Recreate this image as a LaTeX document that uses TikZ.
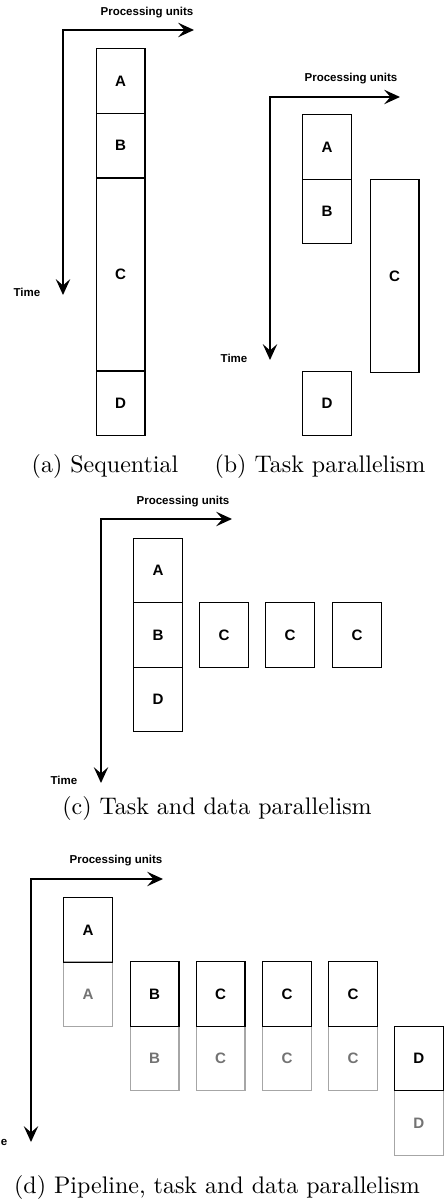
\documentclass[tikz,border=0pt]{standalone}
\usepackage{fontspec}
\newfontfamily\unitfont{Liberation Sans}
\usetikzlibrary{arrows.meta}

\begin{document}
\begin{tikzpicture}[x=.417pt,y=-.417pt,
  eje/.style={line width=.85pt,
    {Stealth[length=6.6pt,width=6pt,inset=2.6pt]}-{Stealth[length=6.6pt,width=6pt,inset=2.6pt]}},
  tarea/.style={draw,line width=.45pt,minimum width=20.4pt,minimum height=26.9pt,
    inner sep=0pt,font=\unitfont\bfseries\fontsize{6.3}{7}\selectfont},
  larga/.style={tarea,minimum height=80.6pt},
  sombra/.style={tarea,draw=black!35,text=black!55},
  rotulo/.style={font=\unitfont\bfseries\fontsize{4.8}{5}\selectfont},
  pie/.style={font=\normalsize}]
\useasboundingbox (0,0) rectangle (444,1201);

% (a)
\coordinate (oa) at (63,30);
\coordinate (xa) at (194,30);
\coordinate (ta) at (63,295);
\draw[eje] (xa) -- (oa) -- (ta);
\node[rotulo] (pua) at (147,13) {Processing units};
\node[rotulo] (tia) at (27,292) {Time};
\node[tarea] (aA) at (120.5,81) {A};
\node[tarea] (aB) at (120.5,145.5) {B};
\node[larga,minimum height=80.4pt] (aC) at (120.5,274.5) {C};
\node[tarea] (aD) at (120.5,403.5) {D};
\node[pie] (capa) at (105,467) {(a) Sequential};

% (b)
\coordinate (ob) at (270,97);
\coordinate (xb) at (400,97);
\coordinate (tb) at (270,360);
\draw[eje] (xb) -- (ob) -- (tb);
\node[rotulo] (pub) at (351,79) {Processing units};
\node[rotulo] (tib) at (234,358) {Time};
\node[tarea] (bA) at (327,147) {A};
\node[tarea] (bB) at (327,211.5) {B};
\node[larga] (bC) at (394.5,276) {C};
\node[tarea] (bD) at (327,403.5) {D};
\node[pie] (capb) at (320,467) {(b) Task parallelism};

% (c)
\coordinate (oc) at (101,519);
\coordinate (xc) at (232,519);
\coordinate (tc) at (101,783);
\draw[eje] (xc) -- (oc) -- (tc);
\node[rotulo] (puc) at (183,502) {Processing units};
\node[rotulo] (tic) at (64,780) {Time};
\node[tarea] (cA) at (158,570.5) {A};
\node[tarea] (cB) at (158,635) {B};
\node[tarea] (cD) at (158,699.5) {D};
\foreach \i/\x in {1/224,2/290,3/357}
  \node[tarea] (cC\i) at (\x,635) {C};
\node[pie] (capc) at (217,808) {(c) Task and data parallelism};

% (d)
\coordinate (od) at (31,879);
\coordinate (xd) at (163,879);
\coordinate (td) at (31,1142);
\draw[eje] (xd) -- (od) -- (td);
\node[rotulo] (pud) at (116,861) {Processing units};
\node[rotulo] (tid) at (-6,1141) {Time};
\node[sombra] (dA2) at (88,994) {A};
\node[tarea] (dA1) at (88,930) {A};
\foreach \n/\l/\x in {B/B/154.5,C1/C/220.5,C2/C/287,C3/C/353}{
  \node[sombra] (d\n2) at (\x,1058.5) {\l};
  \node[tarea] (d\n1) at (\x,994) {\l};
}
\node[sombra] (dD2) at (418.8,1123) {D};
\node[tarea] (dD1) at (418.8,1058.5) {D};
\node[pie] (capd) at (217,1187) {(d) Pipeline, task and data parallelism};
\end{tikzpicture}
\end{document}
